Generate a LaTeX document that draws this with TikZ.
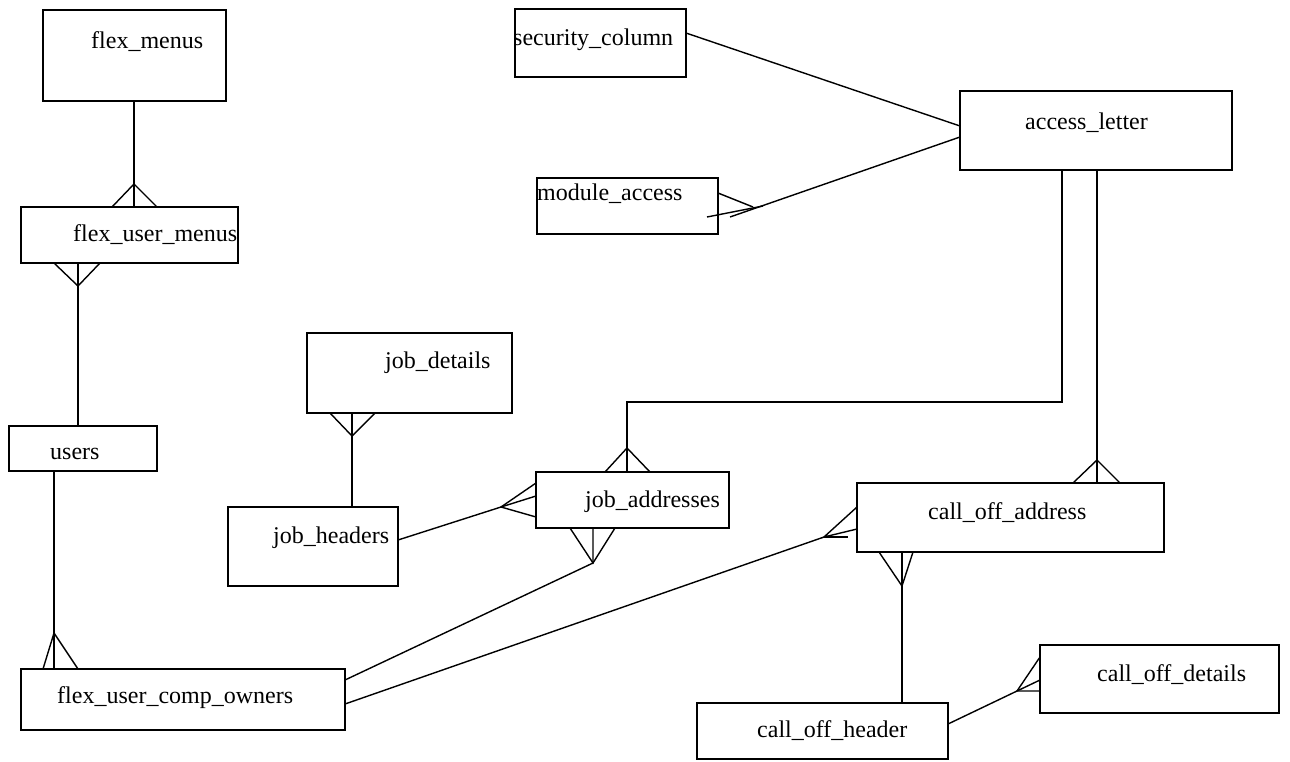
\documentclass[tikz,border=0pt]{standalone}
\usepackage{fontspec}
\setmainfont{Liberation Serif}
\usetikzlibrary{calc}
\begin{document}
\begin{tikzpicture}[x=1pt,y=-1pt,
  entity/.style={draw, line width=1.4pt, rectangle, inner sep=0pt, outer sep=0pt, anchor=north west},
  lbl/.style={inner sep=0pt, anchor=base west, font=\fontsize{24}{28}\selectfont},
  rel/.style={line width=1.4pt, line join=miter}]
\fill[white] (0,0) rectangle (1290,761);
\useasboundingbox (0,0) rectangle (1290,761);

% tables
\node[entity, minimum width=183pt, minimum height=91pt] (fm)   at (43,10)   {};
\node[entity, minimum width=217pt, minimum height=56pt] (fum)  at (21,207)  {};
\node[entity, minimum width=148pt, minimum height=45pt] (us)   at (9,426)   {};
\node[entity, minimum width=324pt, minimum height=61pt] (fuco) at (21,669)  {};
\node[entity, minimum width=171pt, minimum height=68pt] (sc)   at (515,9)   {};
\node[entity, minimum width=181pt, minimum height=56pt] (ma)   at (537,178) {};
\node[entity, minimum width=272pt, minimum height=79pt] (al)   at (960,91)  {};
\node[entity, minimum width=205pt, minimum height=80pt] (jd)   at (307,333) {};
\node[entity, minimum width=170pt, minimum height=79pt] (jh)   at (228,507) {};
\node[entity, minimum width=193pt, minimum height=56pt] (ja)   at (536,472) {};
\node[entity, minimum width=307pt, minimum height=69pt] (coa)  at (857,483) {};
\node[entity, minimum width=239pt, minimum height=68pt] (cod)  at (1040,645) {};
\node[entity, minimum width=251pt, minimum height=56pt] (coh)  at (697,703) {};

% table names
\node[lbl] (fm-t)   at (91,48)    {flex\_menus};
\node[lbl] (fum-t)  at (73,241)   {flex\_user\_menus};
\node[lbl] (us-t)   at (50,459)   {users};
\node[lbl] (fuco-t) at (57,703)   {flex\_user\_comp\_owners};
\node[lbl] (sc-t)   at (513,45)   {security\_column};
\node[lbl] (ma-t)   at (537,200)  {module\_access};
\node[lbl] (al-t)   at (1025,129) {access\_letter};
\node[lbl] (jd-t)   at (385,368)  {job\_details};
\node[lbl] (jh-t)   at (273,543)  {job\_headers};
\node[lbl] (ja-t)   at (585,507)  {job\_addresses};
\node[lbl] (coa-t)  at (928,519)  {call\_off\_address};
\node[lbl] (cod-t)  at (1097,681) {call\_off\_details};
\node[lbl] (coh-t)  at (757,737)  {call\_off\_header};

% flex_menus -- flex_user_menus
\coordinate (cf1) at (134,184);
\draw[rel] (fm.south -| cf1) -- (fum.north -| cf1);
\draw[rel] ($(cf1)+(-22,23)$) -- (cf1) -- ($(cf1)+(23,23)$);

% flex_user_menus -- users
\coordinate (cf2) at (78,286);
\draw[rel] (fum.south -| cf2) -- (us.north -| cf2);
\draw[rel] ($(cf2)+(-24,-23)$) -- (cf2) -- ($(cf2)+(22,-23)$);

% users -- flex_user_comp_owners
\coordinate (cf3) at (54,633);
\draw[rel] (us.south -| cf3) -- (fuco.north -| cf3);
\draw[rel] ($(cf3)+(-11,36)$) -- (cf3) -- ($(cf3)+(24,36)$);

% security_column -- access_letter
\draw[rel] ($(sc.north east)+(0,24)$) -- ($(al.north west)+(0,35)$);

% access_letter -- module_access
\coordinate (cf4) at (730,217);
\draw[rel] ($(al.north west)+(0,46)$) -- (cf4);
\draw[rel] ($(ma.north east)+(0,15)$) -- ($(cf4)+(23,-10)$);
\draw[rel] ($(cf4)+(-23,0)$) -- ($(cf4)+(33,-11)$);

% job_details -- job_headers
\coordinate (cf5) at (352,436);
\draw[rel] (jd.south -| cf5) -- (jh.north -| cf5);
\draw[rel] ($(cf5)+(-22,-23)$) -- (cf5) -- ($(cf5)+(23,-23)$);

% job_headers -- job_addresses
\coordinate (cf6) at (501,507);
\draw[rel] ($(jh.north east)+(0,33)$) -- (cf6);
\draw[rel] ($(ja.north west)+(0,11)$) -- (cf6) -- ($(ja.north west)+(0,45)$);
\draw[rel] (cf6) -- ($(ja.north west)+(0,24)$);

% access_letter -- job_addresses
\coordinate (cf7) at (627,448);
\coordinate (bend) at (1062,402);
\draw[rel] (al.south -| bend) -- (bend) -- (bend -| cf7) -- (ja.north -| cf7);
\draw[rel] ($(cf7)+(-22,24)$) -- (cf7) -- ($(cf7)+(23,24)$);

% access_letter -- call_off_address
\coordinate (cf8) at (1097,460);
\draw[rel] (al.south -| cf8) -- (coa.north -| cf8);
\draw[rel] ($(cf8)+(-24,23)$) -- (cf8) -- ($(cf8)+(23,23)$);

% job_addresses -- flex_user_comp_owners
\coordinate (cf9) at (593,563);
\draw[rel] (ja.south -| cf9) -- (cf9) -- ($(fuco.north east)+(0,11)$);
\draw[rel] ($(cf9)+(-23,-35)$) -- (cf9) -- ($(cf9)+(22,-35)$);

% flex_user_comp_owners -- call_off_address
\coordinate (cf10) at (824,537);
\draw[rel] ($(fuco.north east)+(0,35)$) -- (cf10);
\draw[rel] ($(coa.north west)+(0,24)$) -- (cf10) -- ($(coa.north west)+(0,46)$);
\draw[rel] (cf10) -- ($(cf10)+(24,0)$);

% call_off_address -- call_off_header
\coordinate (cf11) at (902,586);
\draw[rel] (coa.south -| cf11) -- (coh.north -| cf11);
\draw[rel] ($(cf11)+(-23,-34)$) -- (cf11) -- ($(cf11)+(11,-34)$);

% call_off_header -- call_off_details
\coordinate (cf12) at (1017,691);
\draw[rel] ($(coh.north east)+(0,21)$) -- (cf12);
\draw[rel] ($(cod.north west)+(0,12)$) -- (cf12) -- ($(cod.north west)+(0,46)$);
\draw[rel] (cf12) -- ($(cod.north west)+(0,35)$);
\end{tikzpicture}
\end{document}
